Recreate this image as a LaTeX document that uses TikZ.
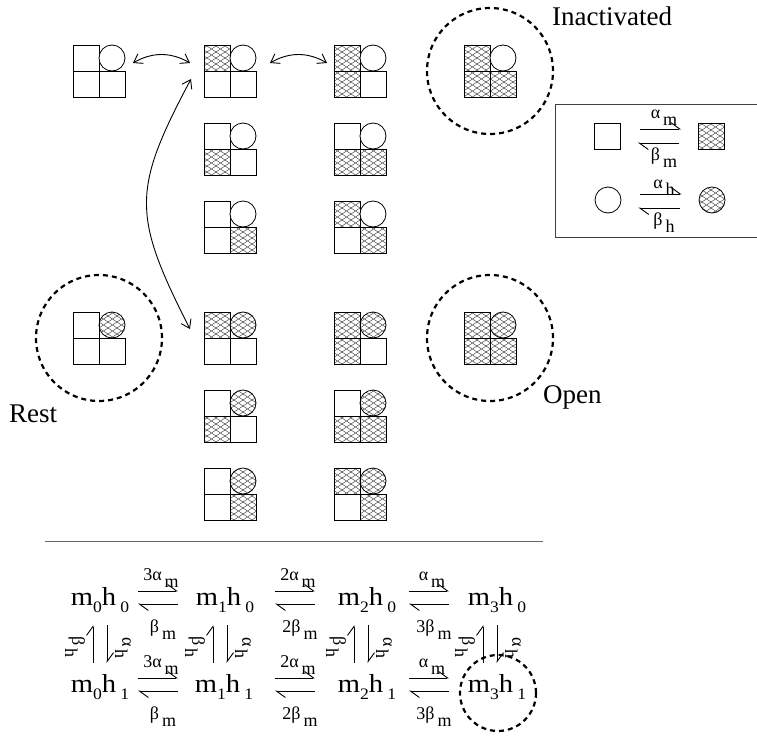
\documentclass[tikz,border=0pt]{standalone}
\usepackage{fontspec}
\setmainfont{Liberation Serif}
\newfontfamily\eqfont[FakeStretch=1.1]{Liberation Serif}
\usetikzlibrary{arrows.meta,patterns,calc}

% diamond mesh used for the hatched cells
\pgfdeclarepatternformonly{mesh}{\pgfpoint{-1pt}{-1pt}}{\pgfpoint{10pt}{7pt}}{\pgfpoint{9pt}{6pt}}{%
  \pgfsetlinewidth{0.45pt}%
  \pgfpathmoveto{\pgfpoint{0pt}{0pt}}\pgfpathlineto{\pgfpoint{9pt}{6pt}}%
  \pgfpathmoveto{\pgfpoint{0pt}{6pt}}\pgfpathlineto{\pgfpoint{9pt}{0pt}}%
  \pgfusepath{stroke}}

\tikzset{
  emptycell/.style={draw, line width=0.8pt, fill=white},
  hatchcell/.style={draw, line width=0.8pt, pattern=mesh, pattern color=black!70},
  glyphbox/.style={minimum size=52pt, inner sep=0pt, outer sep=0pt},
  ring/.style={draw, line width=2.2pt, dash pattern=on 5pt off 4pt},
  swaparrow/.style={{Straight Barb[length=8pt,width=11pt]}-{Straight Barb[length=8pt,width=11pt]}, line width=0.9pt},
  harp/.style={-{Straight Barb[harpoon,length=9pt,width=13pt]}, line width=0.9pt},
  lbl/.style={font=\fontsize{27}{30}\selectfont, inner sep=0pt, anchor=base west},
  rate/.style={font=\fontsize{18}{20}\selectfont, inner sep=0pt, anchor=base},
  eq/.style={font=\eqfont\fontsize{26}{30}\selectfont, inner sep=0pt, anchor=base},
}

% rate constant with lowered subscript
\newcommand\ratelbl[2]{#1\,\raisebox{-0.4em}{#2}}
% state m_i h_j
\newcommand\mhstate[2]{m\raisebox{-0.3em}{\fontsize{16}{16}\selectfont #1}h\,\raisebox{-0.3em}{\fontsize{16}{16}\selectfont #2}}

% channel glyph: name, centre, top-left, circle, bottom-left, bottom-right
\newcommand\chan[6]{%
  \node[glyphbox] (#1) at (#2) {};
  \path[#3] (#1.north west) rectangle (#1.center);
  \path[#5] (#1.west) rectangle (#1.south);
  \path[#6] (#1.center) rectangle (#1.south east);
  \path[#4] ($(#1.north east)!0.5!(#1.center)$) circle[radius=13pt];
}

% pair of opposed harpoons centred at (x,y) (y = lower line)
\newcommand\rxnpair[5]{%
  \coordinate (#1) at (#2,#3);
  \draw[harp] ([shift={(-20,-13)}]#1) -- ([shift={(20,-13)}]#1);
  \draw[harp] ([shift={(20,0)}]#1) -- ([shift={(-20,0)}]#1);
  \node[rate] at ([shift={(3,-24)}]#1) {#4};
  \node[rate] at ([shift={(5,28)}]#1) {#5};
}

% vertical pair of harpoons centred at (x,y)
\newcommand\vpair[3]{%
  \coordinate (#1) at (#2,#3);
  \draw[harp] ([shift={(-7,19)}]#1) -- ([shift={(-7,-19)}]#1);
  \draw[harp] ([shift={(7,-19)}]#1) -- ([shift={(7,19)}]#1);
  \node[rate, rotate=-90, anchor=center] at ([shift={(-25,3)}]#1) {\ratelbl{β}{h}};
  \node[rate, rotate=-90, anchor=center] at ([shift={(23,4)}]#1) {\ratelbl{α}{h}};
}

\begin{document}
\begin{tikzpicture}[x=1pt,y=-1pt]
\useasboundingbox (0,0) rectangle (757,736);

% ---- channel states, h gate closed ----
\chan{A}{99,71}{emptycell}{emptycell}{emptycell}{emptycell}
\chan{B}{230,71}{hatchcell}{emptycell}{emptycell}{emptycell}
\chan{C}{360,71}{hatchcell}{emptycell}{hatchcell}{emptycell}
\chan{inact}{490,71}{hatchcell}{emptycell}{hatchcell}{hatchcell}
\chan{B2}{230,149}{emptycell}{emptycell}{hatchcell}{emptycell}
\chan{C2}{360,149}{emptycell}{emptycell}{hatchcell}{hatchcell}
\chan{B3}{230,227}{emptycell}{emptycell}{emptycell}{hatchcell}
\chan{C3}{360,227}{hatchcell}{emptycell}{emptycell}{hatchcell}

% ---- channel states, h gate open ----
\chan{rest}{99,338}{emptycell}{hatchcell}{emptycell}{emptycell}
\chan{B4}{230,338}{hatchcell}{hatchcell}{emptycell}{emptycell}
\chan{C4}{360,338}{hatchcell}{hatchcell}{hatchcell}{emptycell}
\chan{open}{490,338}{hatchcell}{hatchcell}{hatchcell}{hatchcell}
\chan{B5}{230,416}{emptycell}{hatchcell}{hatchcell}{emptycell}
\chan{C5}{360,416}{emptycell}{hatchcell}{hatchcell}{hatchcell}
\chan{B6}{230,494}{emptycell}{hatchcell}{emptycell}{hatchcell}
\chan{C6}{360,494}{hatchcell}{hatchcell}{emptycell}{hatchcell}

% highlighted states
\draw[ring] (inact) circle[radius=63pt];
\draw[ring] (rest) circle[radius=63pt];
\draw[ring] (open) circle[radius=63pt];
\node[lbl] (tInact) at (552,25) {Inactivated};
\node[lbl] (tRest) at (9,422) {Rest};
\node[lbl] (tOpen) at (543,403) {Open};

% transitions
\draw[swaparrow] ([shift={(8,-8)}]A.east) to[bend left=30] ([shift={(-14,-8)}]B.west);
\draw[swaparrow] ([shift={(14,-8)}]B.east) to[bend left=30] ([shift={(-7,-8)}]C.west);
\draw[swaparrow] ([shift={(-13,8)}]B.west) .. controls (132,190) and (132,215) .. ([shift={(-14,-9)}]B4.west);

% ---- key ----
\draw[line width=1pt, black!75] (555,104) rectangle (775,237);
\node[emptycell, minimum size=26pt, inner sep=0pt] (keyA) at (607.5,136) {};
\node[hatchcell, minimum size=26pt, inner sep=0pt] (keyB) at (711.5,136) {};
\node[emptycell, circle, minimum size=26pt, inner sep=0pt] (keyC) at (608,200) {};
\node[hatchcell, circle, minimum size=26pt, inner sep=0pt] (keyD) at (712,200) {};
\draw[harp] ([shift={(19,-7)}]keyA.east) -- ([shift={(-17,-7)}]keyB.west);
\draw[harp] ([shift={(-19,7)}]keyB.west) -- ([shift={(17,7)}]keyA.east);
\draw[harp] ([shift={(19,-6)}]keyC.east) -- ([shift={(-17,-6)}]keyD.west);
\draw[harp] ([shift={(-19,8)}]keyD.west) -- ([shift={(17,8)}]keyC.east);
\node[rate] (kam) at (664,118) {\ratelbl{α}{m}};
\node[rate] (kbm) at (664,160) {\ratelbl{β}{m}};
\node[rate] (kah) at (664,188) {\ratelbl{α}{h}};
\node[rate] (kbh) at (664,225) {\ratelbl{β}{h}};

% separator
\draw[black!60, line width=0.8pt] (45,541) -- (543,541);

% ---- kinetic scheme ----
\node[eq] (e00) at (100,605) {\mhstate{0}{0}};
\node[eq] (e10) at (225,605) {\mhstate{1}{0}};
\node[eq] (e20) at (367,605) {\mhstate{2}{0}};
\node[eq] (e30) at (497,605) {\mhstate{3}{0}};
\node[eq] (e01) at (100,692) {\mhstate{0}{1}};
\node[eq] (e11) at (224,692) {\mhstate{1}{1}};
\node[eq] (e21) at (367,692) {\mhstate{2}{1}};
\node[eq] (e31) at (497,692) {\mhstate{3}{1}};

\rxnpair{r1}{158}{604}{\ratelbl{3α}{m}}{\ratelbl{β}{m}}
\rxnpair{r2}{295}{604}{\ratelbl{2α}{m}}{\ratelbl{2β}{m}}
\rxnpair{r3}{429}{604}{\ratelbl{α}{m}}{\ratelbl{3β}{m}}
\rxnpair{r4}{158}{691}{\ratelbl{3α}{m}}{\ratelbl{β}{m}}
\rxnpair{r5}{295}{691}{\ratelbl{2α}{m}}{\ratelbl{2β}{m}}
\rxnpair{r6}{429}{691}{\ratelbl{α}{m}}{\ratelbl{3β}{m}}

\vpair{v1}{100}{644}
\vpair{v2}{220}{644}
\vpair{v3}{361}{644}
\vpair{v4}{490}{644}

\draw[ring] ([shift={(1,1)}]e31.base) circle[radius=38pt];
\end{tikzpicture}
\end{document}
